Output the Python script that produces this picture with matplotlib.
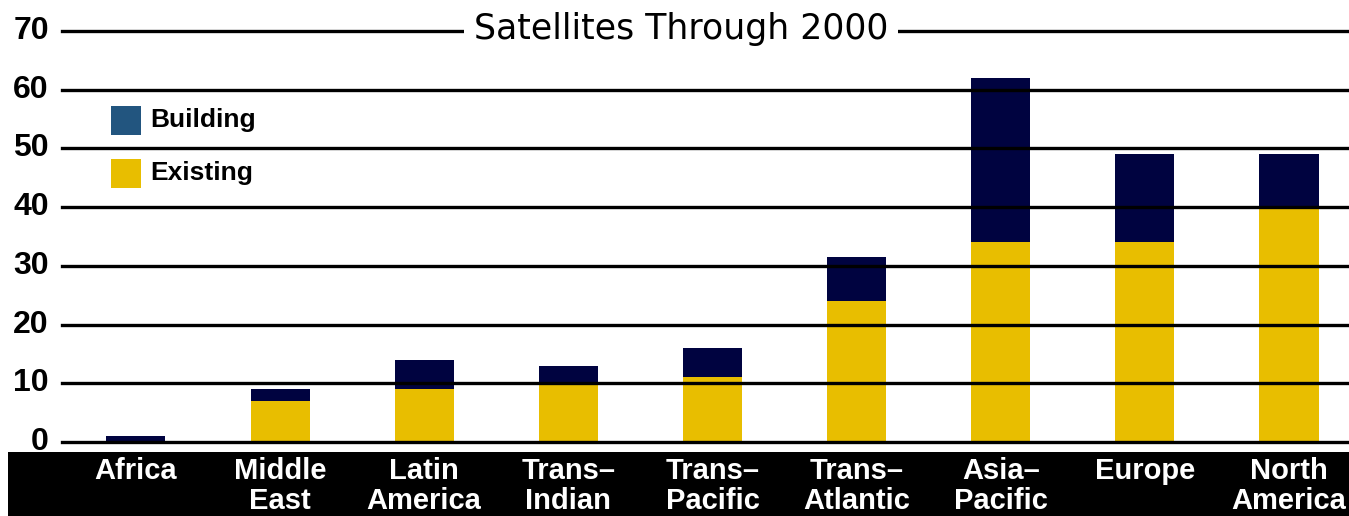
import matplotlib
matplotlib.use("Agg")
import matplotlib.pyplot as plt
from matplotlib.patches import Rectangle

# data
regions = ["Africa", "Middle\nEast", "Latin\nAmerica", "Trans\u2013\nIndian", "Trans\u2013\nPacific",
           "Trans\u2013\nAtlantic", "Asia\u2013\nPacific", "Europe", "North\nAmerica"]
existing = [0, 7, 9, 10, 11, 24, 34, 34, 40]
building = [1, 2, 5, 3, 5, 7.5, 28, 15, 9]
yticks = [0, 10, 20, 30, 40, 50, 60, 70]

navy = "#000340"
gold = "#e8be00"
legend_blue = "#22557f"

W, H = 1349, 516
fig = plt.figure(figsize=(W / 100, H / 100), dpi=100)

# axes: x from 62px to right edge, y value 0 at 442px, 70 at 31px
ax = fig.add_axes([62 / W, (H - 442) / H, 1 - 62 / W, (442 - 31) / H])
x = list(range(len(regions)))
ax.bar(x, existing, width=0.41, color=gold, zorder=1)
ax.bar(x, building, bottom=existing, width=0.41, color=navy, zorder=1)
ax.set_xlim(-0.513, 8.416)
ax.set_ylim(0, 70)
ax.set_axis_off()
for v in yticks:
    ax.axhline(v, color="black", lw=2.4, zorder=3, clip_on=False)
    ax.text(-0.513 - 13 / 144.1, v, str(v), ha="right", va="center",
            fontsize=23, fontweight="bold", family="Liberation Sans", clip_on=False)

# title sitting on the 70 line
fig.text(681 / W, 1 - 29 / H, "Satellites Through 2000", ha="center", va="center",
         fontsize=25, family="DejaVu Sans", zorder=5,
         bbox=dict(facecolor="white", edgecolor="none", pad=7))

# black band with category labels
fig.add_artist(Rectangle((8 / W, 0), 1 - 8 / W, (H - 452) / H, transform=fig.transFigure,
                         facecolor="black", edgecolor="none"))
for i, lab in enumerate(regions):
    xf = ax.transData.transform((i, 0))[0] / W
    lines = lab.split("\n")
    for k, line in enumerate(lines):
        fig.text(xf, 1 - (471 + 30 * k) / H, line, ha="center", va="center", color="white",
                 fontsize=21, fontweight="bold", family="Liberation Sans")

# legend
for (y0, col, lab) in [(106, legend_blue, "Building"), (159, gold, "Existing")]:
    fig.add_artist(Rectangle((111 / W, 1 - (y0 + 29) / H), 30 / W, 29 / H,
                             transform=fig.transFigure, facecolor=col, edgecolor="none"))
    fig.text(150 / W, 1 - (y0 + 14) / H, lab, ha="left", va="center", fontsize=19,
             fontweight="bold", family="Liberation Sans")

fig.savefig("out.png", dpi=100)
